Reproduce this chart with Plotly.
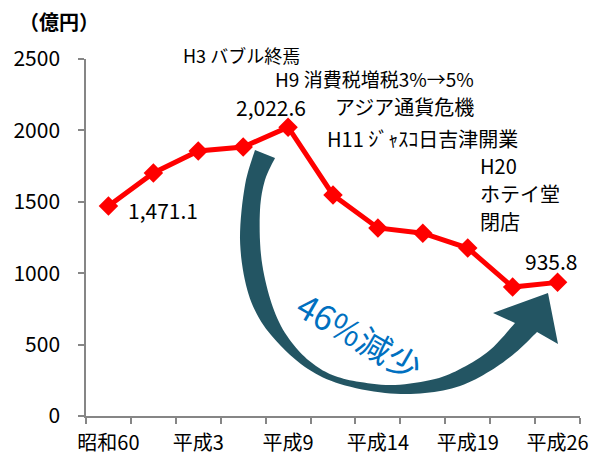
import plotly.graph_objects as go

# ---- data ----
periods = ["昭和60", "昭和63", "平成3", "平成6", "平成9", "平成11",
           "平成14", "平成16", "平成19", "平成24", "平成26"]
sales = [1471.1, 1702, 1856, 1884, 2022.6, 1548, 1317, 1280, 1176, 903, 935.8]
tick_idx = [0, 2, 4, 6, 8, 10]
tick_text = ["昭和60", "平成3", "平成9", "平成14", "平成19", "平成26"]
y_ticks = [0, 500, 1000, 1500, 2000, 2500]

# ---- layout geometry (screen pixels; page body has an 8px margin) ----
OFF = 8
W, H = 597 - OFF, 459 - OFF
X0, X1, Y0, Y1 = 86, 580, 59, 416          # plot area on screen
L, R, T, B = X0 - OFF, 597 - X1, Y0 - OFF, 459 - Y1
PW, PH = X1 - X0, Y1 - Y0


def pp(x, y):
    """screen pixel -> paper coordinates"""
    return (x - X0) / PW, (Y1 - y) / PH


def smooth(points, n=8):
    """Catmull-Rom densification of a decoration outline"""
    out = []
    for i in range(len(points) - 1):
        p0 = points[max(i - 1, 0)]
        p1 = points[i]
        p2 = points[i + 1]
        p3 = points[min(i + 2, len(points) - 1)]
        for k in range(n):
            t = k / n
            t2, t3 = t * t, t * t * t
            out.append(tuple(
                0.5 * (2 * p1[j] + (-p0[j] + p2[j]) * t
                       + (2 * p0[j] - 5 * p1[j] + 4 * p2[j] - p3[j]) * t2
                       + (-p0[j] + 3 * p1[j] - 3 * p2[j] + p3[j]) * t3)
                for j in range(2)))
    out.append(points[-1])
    return out


FONT = "Noto Sans CJK JP, Noto Sans, sans-serif"
xs = list(range(len(periods)))

fig = go.Figure()
fig.add_trace(go.Scatter(
    x=xs, y=sales, mode="lines+markers",
    line=dict(color="#FF0000", width=5),
    marker=dict(symbol="diamond", size=15, color="#FF0000"),
    hoverinfo="skip", showlegend=False,
))

# ---- curved arrow (decoration) ----
outer = [(255, 150), (245, 185), (240, 238), (246, 285), (259, 318), (280, 345),
         (308, 369), (340, 384), (385, 393), (425, 393), (460, 386), (490, 371),
         (515, 353), (537, 332)]
head = [(558, 344), (548, 293), (493, 313)]
inner = [(515, 323), (490, 350), (462, 368), (435, 379), (395, 385), (360, 382),
         (335, 376), (316, 366), (298, 350), (281, 326), (269, 295), (261, 255),
         (260, 210), (265, 180), (275, 158)]
pts = smooth(outer) + head + smooth(inner)
path = "M " + " L ".join("%.4f,%.4f" % pp(x, y) for x, y in pts) + " Z"
fig.add_shape(type="path", xref="paper", yref="paper", path=path,
              fillcolor="#235563", line=dict(width=0), layer="below")

# ---- annotations ----
def note(text, x, y, size=20, anchor="left", **kw):
    px_, py_ = pp(x, y)
    fig.add_annotation(text=text, x=px_, y=py_, xref="paper", yref="paper",
                       xanchor=anchor, yanchor="middle", showarrow=False,
                       font=dict(family=FONT, size=size, color=kw.pop("color", "#000000")),
                       **kw)

note("<b>（億円）</b>", 59, 22, size=20, anchor="center")
note("H3 バブル終焉", 181, 55, size=18)
note("H9 消費税増税3%→5%", 273, 78, size=19)
note("アジア通貨危機", 333, 107, size=20)
note("H11 ｼﾞｬｽｺ日吉津開業", 325, 138, size=20)
note("H20", 478, 165, size=20)
note("ホテイ堂", 478, 193, size=20)
note("閉店", 478, 221, size=20)
note("46%減少", 360, 335, size=34, anchor="center", color="#0070C0", textangle=30)

# value labels anchored to data points
for i, txt, dx, dy in [(0, "1,471.1", 55, -4), (4, "2,022.6", -17, 20), (10, "935.8", -7, 21)]:
    fig.add_annotation(x=xs[i], y=sales[i], text=txt, showarrow=False,
                       xshift=dx, yshift=dy, xanchor="center", yanchor="middle",
                       font=dict(family=FONT, size=21, color="#000000"))

fig.update_layout(
    width=W, height=H,
    margin=dict(l=L, r=R, t=T, b=B, pad=0),
    paper_bgcolor="white", plot_bgcolor="white",
    font=dict(family=FONT, size=20, color="#000000"),
    showlegend=False,
)
fig.update_xaxes(
    range=[-0.5, len(periods) - 0.5], showgrid=False, zeroline=False,
    showline=True, linecolor="#868686", linewidth=1.5, automargin=False,
    tickmode="array", tickvals=tick_idx, ticktext=tick_text, ticks="",
    ticklabelstandoff=8,
    minor=dict(tickmode="array", tickvals=[i - 0.5 for i in range(len(periods) + 1)],
               ticks="outside", ticklen=6, tickcolor="#868686", tickwidth=1.5),
    tickfont=dict(family=FONT, size=20),
)
fig.update_yaxes(
    range=[0, 2500], showgrid=False, zeroline=False,
    showline=True, linecolor="#868686", linewidth=1.5, automargin=False,
    tickmode="array", tickvals=y_ticks, ticks="outside", ticklen=6,
    tickcolor="#868686", tickwidth=1.5, ticklabelstandoff=14,
    tickfont=dict(family=FONT, size=21),
)

fig.write_html("out.html")
